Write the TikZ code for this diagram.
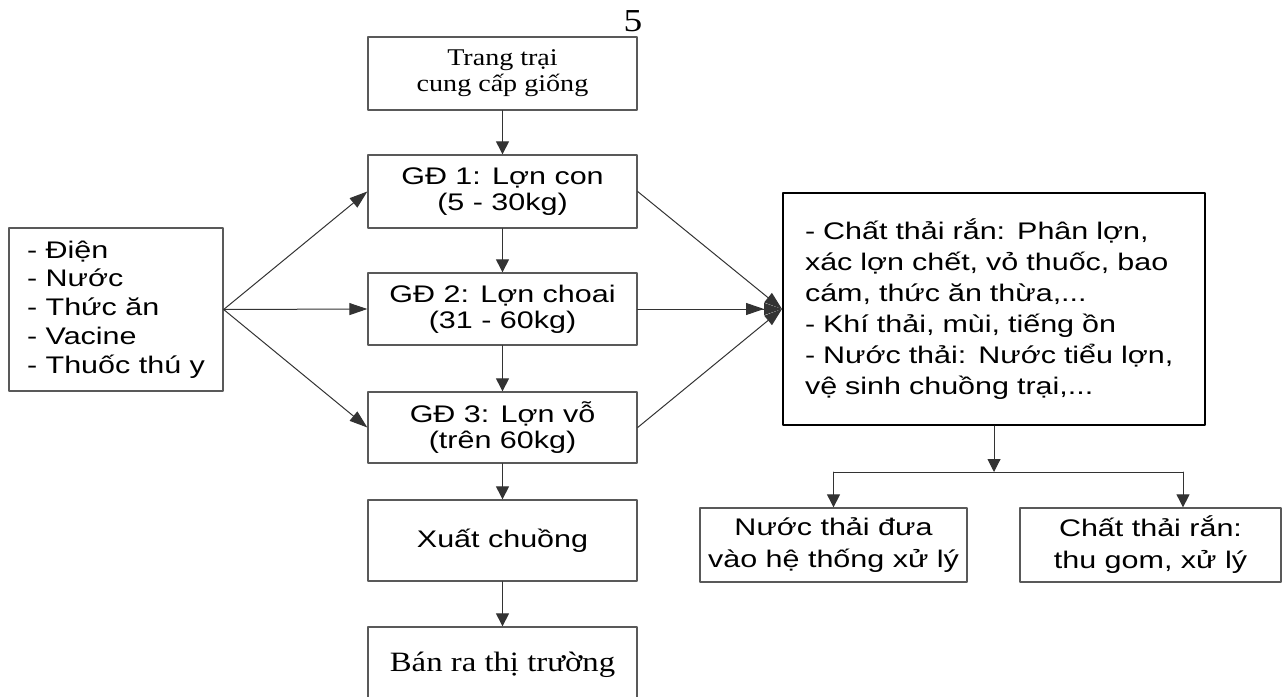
\documentclass[tikz,border=0pt]{standalone}
\usepackage{fontspec}
\setmainfont{Liberation Serif}[FakeStretch=1.17]
\setsansfont{Liberation Sans}[FakeStretch=1.27]
\usetikzlibrary{arrows.meta,calc}

\begin{document}
\begin{tikzpicture}[x=0.5pt, y=-0.5pt, line cap=round, line join=round,
    box/.style={draw=black!65, line width=0.65pt, inner sep=0pt, align=center,
      minimum width=134.5pt, font=\sffamily\fontsize{12}{13}\selectfont},
    serifbox/.style={box, font=\rmfamily\fontsize{12}{13}\selectfont},
    vflow/.style={-{Triangle[length=6.5pt,width=6.5pt]}, draw=black!80, line width=0.5pt},
    hflow/.style={-{Triangle[length=9pt,width=6pt]}, draw=black!80, line width=0.5pt}]
    \useasboundingbox (0,0) rectangle (1283,696);

    % main chain
    \node[font=\rmfamily\fontsize{16}{18}\selectfont] (pg) at (633,21) {5};
    \node[serifbox, minimum height=36.5pt] (farm) at (502.5,73.5) {Trang trại\\cung cấp giống};
    \node[box, minimum height=36.5pt] (gd1) at (502.5,191.5) {GĐ 1: Lợn con\\(5 - 30kg)};
    \node[box, minimum height=36pt] (gd2) at (502.5,309) {GĐ 2: Lợn choai\\(31 - 60kg)};
    \node[box, minimum height=35.5pt] (gd3) at (502.5,427.5) {GĐ 3: Lợn vỗ\\(trên 60kg)};
    \node[box, minimum height=40.5pt] (out) at (502.5,540.5) {Xuất chuồng};
    \node[serifbox, minimum height=38pt, font=\rmfamily\fontsize{14}{16}\selectfont] (market) at (502.5,665) {Bán ra thị trường};

    % inputs and wastes
    \node[box, minimum width=107pt, minimum height=81.5pt, align=left,
      font=\sffamily\fontsize{12}{14.4}\selectfont] (input) at (116,309.5)
      {- Điện\\- Nước\\- Thức ăn\\- Vacine\\- Thuốc thú y};
    \node[box, draw=black, line width=1pt, minimum width=211pt, minimum height=116pt,
      text width=189pt, inner xsep=11pt, align=left,
      font=\sffamily\fontsize{12}{15.5}\selectfont] (waste) at (994,309)
      {- Chất thải rắn: Phân lợn,\\xác lợn chết, vỏ thuốc, bao\\cám, thức ăn thừa,...\\- Khí thải, mùi, tiếng ồn\\- Nước thải: Nước tiểu lợn,\\vệ sinh chuồng trại,...};
    \node[box, minimum width=133.5pt, minimum height=37pt,
      font=\sffamily\fontsize{12}{16}\selectfont] (water) at (833.5,545) {Nước thải đưa\\vào hệ thống xử lý};
    \node[box, minimum width=130.5pt, minimum height=37pt,
      font=\sffamily\fontsize{12}{16}\selectfont] (solid) at (1150.5,545) {Chất thải rắn:\\thu gom, xử lý};

    \coordinate (split) at (994,472);
    \coordinate (splitL) at (833.5,472);
    \coordinate (splitR) at (1183,472);

    \draw[vflow] (farm) -- (gd1);
    \draw[vflow] (gd1) -- (gd2);
    \draw[vflow] (gd2) -- (gd3);
    \draw[vflow] (gd3) -- (out);
    \draw[vflow] (out) -- (market);
    \foreach \s in {gd1,gd2,gd3}
      \draw[hflow] (input.east) -- (\s.west);
    \draw[hflow] (gd1.east) -- (waste.west);
    \draw[-{Triangle[length=9pt,width=6pt] Triangle[length=9pt,width=6pt]}, draw=black!80, line width=0.5pt] (gd2.east) -- (waste.west);
    \draw[hflow] (gd3.east) -- (waste.west);

    \draw[vflow] (waste.south) -- (split);
    \draw[draw=black!80, line width=0.5pt] (splitL) -- (splitR);
    \draw[vflow] (splitL) -- (water.north);
    \draw[vflow] (splitR) -- (splitR |- solid.north);
\end{tikzpicture}
\end{document}
